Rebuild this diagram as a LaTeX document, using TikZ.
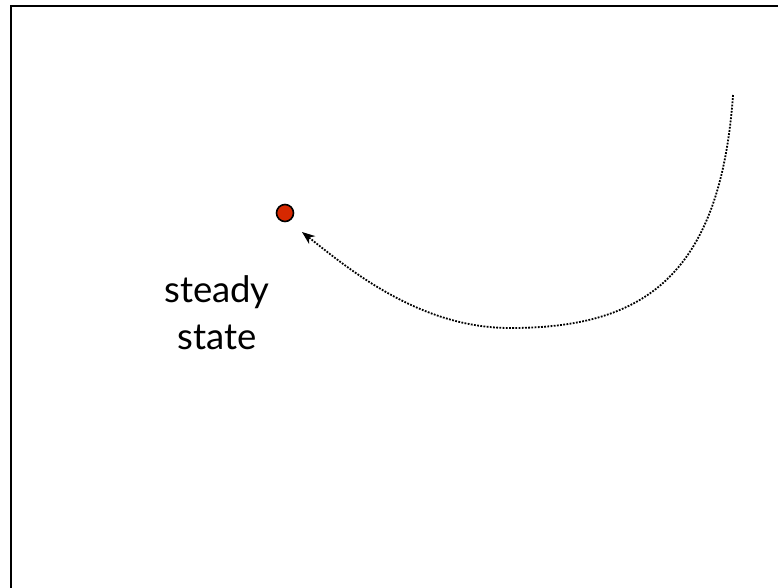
\documentclass[tikz,border=0pt]{standalone}
\usepackage{fontspec}
\setmainfont{Lato}
\usetikzlibrary{arrows.meta}
\definecolor{dotred}{RGB}{214,40,0}
\tikzset{
  frameline/.style={line width=2pt, line cap=rect},
  statedot/.style={circle, draw=black, line width=1.6pt, fill=dotred, minimum size=17pt, inner sep=0pt},
  sslabel/.style={font=\fontsize{36.5}{47}\selectfont, align=center},
  traj/.style={line width=1.8pt, dash pattern=on 1.8pt off 1.4pt, -{Stealth[length=13pt,width=10pt]}}
}
\begin{document}
\begin{tikzpicture}[x=1pt,y=-1pt]
\useasboundingbox (0,0) rectangle (778,587);
\coordinate (tl) at (11,6);
\coordinate (tr) at (780,6);
\coordinate (bl) at (11,590);
\draw[frameline] (tr) -- (tl) -- (bl);
\node[statedot] (ss) at (285,213) {};
\node[sslabel] (lbl) at (217,313) {steady\\state};
\coordinate (start) at (733,95);
\coordinate (low) at (510,328);
\coordinate (tip) at (302,232);
\draw[traj] (start) .. controls (720,280) and (640,328) .. (low)
  .. controls (420,328) and (350,270) .. (tip);
\end{tikzpicture}
\end{document}
